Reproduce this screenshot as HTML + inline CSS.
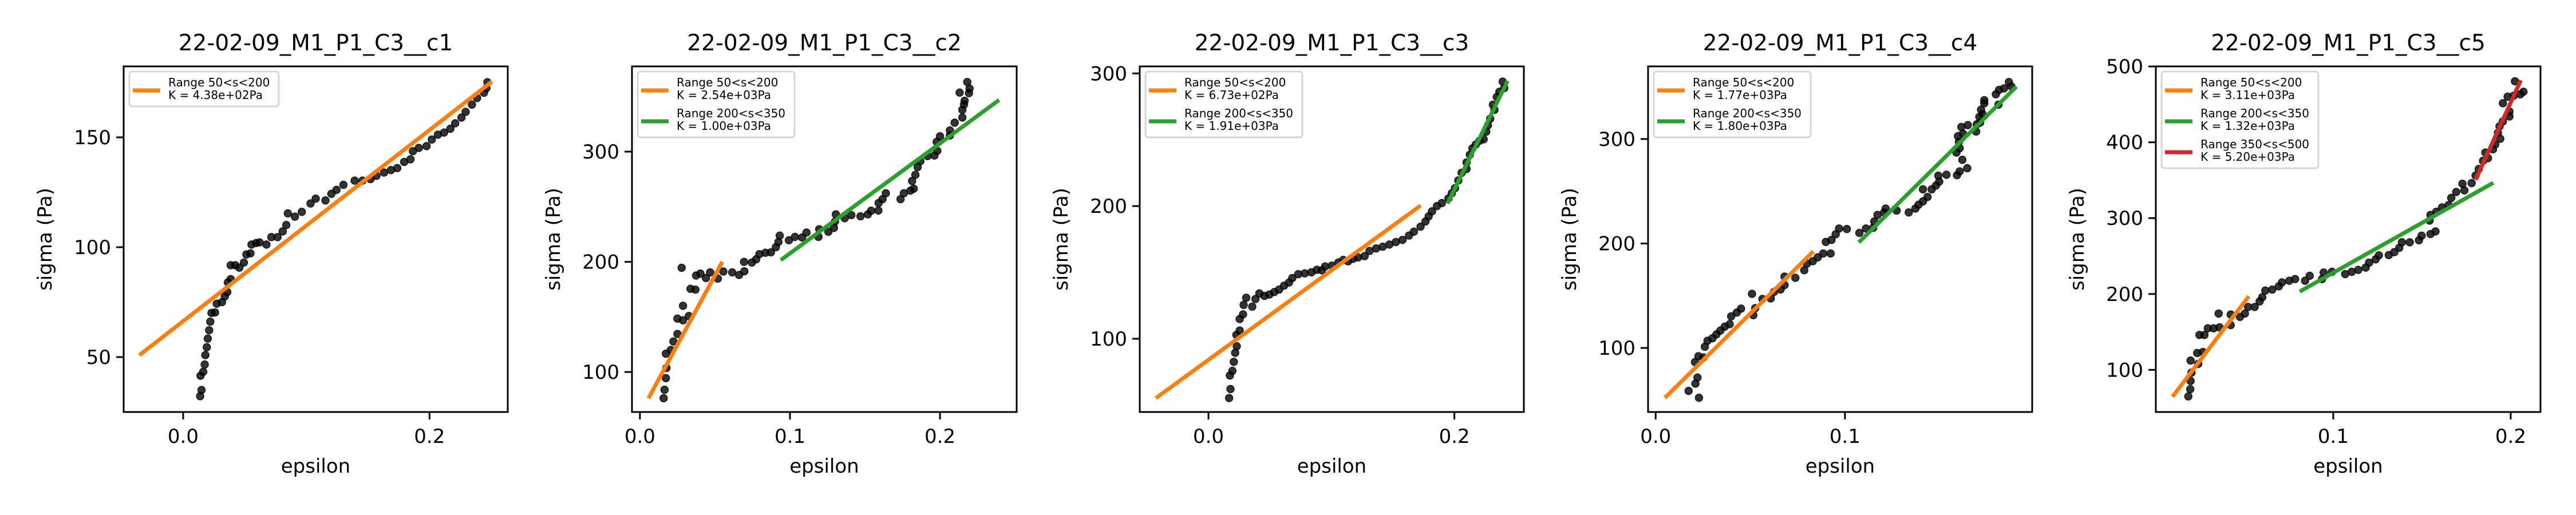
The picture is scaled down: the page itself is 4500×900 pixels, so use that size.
<!DOCTYPE html>
<html><head><meta charset="utf-8"><style>
html,body{margin:0;padding:0;background:#fff;}
svg{display:block;font-family:"DejaVu Sans","Liberation Sans",sans-serif;}
</style></head><body>
<svg id="fig" width="4500" height="900" viewBox="0 0 4500 900" xmlns="http://www.w3.org/2000/svg"></svg>
<script>
// ---- data ----
const titles = ["22-02-09_M1_P1_C3__c1","22-02-09_M1_P1_C3__c2","22-02-09_M1_P1_C3__c3","22-02-09_M1_P1_C3__c4","22-02-09_M1_P1_C3__c5"];
const c1x=[0.0138,0.0149,0.0141,0.0163,0.0175,0.018,0.0192,0.02,0.0211,0.022,0.023,0.0259,0.0273,0.0315,0.0338,0.0358,0.0363,0.0386,0.0386,0.0423,0.0456,0.0493,0.0513,0.0546,0.0555,0.0592,0.062,0.0676,0.0716,0.0766,0.0808,0.0837,0.085,0.0907,0.0963,0.1034,0.1076,0.1155,0.1203,0.1245,0.1301,0.1392,0.1456,0.1521,0.1569,0.1631,0.1687,0.1738,0.1794,0.1845,0.1865,0.1913,0.1976,0.2018,0.2068,0.2118,0.2169,0.2208,0.2259,0.2293,0.2344,0.2386,0.2442,0.2462,0.247];
const c1y=[32.2,35,41.5,43.3,46.6,50.9,54.5,58.4,62.2,66.1,70.1,70.3,74.3,75,77.6,79.6,84,85.5,91.8,91.8,90.7,93,96.7,97.2,101.2,101.9,102.2,101.2,104.6,104.6,107.2,110.1,115.4,113.9,116.1,119.9,122.1,121.3,124.3,126.1,128.4,130.3,130.3,131,132.5,134,135.1,136,138.8,140,143.7,145.2,146,149,151.2,152.2,153.9,156.4,159,161.6,164.9,167.9,170.3,172.4,175.1];
const c2x=[0.0158,0.0164,0.0173,0.0177,0.0173,0.0206,0.0223,0.025,0.025,0.0287,0.0287,0.0326,0.0337,0.037,0.0278,0.0374,0.0403,0.044,0.0468,0.0519,0.0556,0.0615,0.0661,0.0696,0.0694,0.0746,0.0775,0.0796,0.0836,0.0873,0.0906,0.0923,0.0932,0.0993,0.1033,0.1081,0.111,0.119,0.1195,0.1256,0.1293,0.13,0.1306,0.1365,0.1409,0.147,0.1519,0.1541,0.1589,0.1591,0.1617,0.1639,0.1737,0.1759,0.1803,0.1825,0.1814,0.1836,0.1851,0.1869,0.1917,0.1963,0.1982,0.1978,0.2,0.2066,0.2066,0.2098,0.2149,0.2149,0.216,0.2164,0.2131,0.2193,0.2197,0.2182];
const c2y=[76.2,83.9,94.4,103.7,116.6,120,127.7,134.5,148.5,146.9,160.1,150.8,175.5,174.8,194.6,187.6,189.3,185.3,190.4,184.8,191.2,190.4,188.1,191.4,200,199.3,202.3,207,208.2,208.6,213.3,218,223.8,219.6,222.6,222.1,226.6,222.6,229.6,227.3,230.8,236.6,243.1,239.6,242.4,241.3,243.1,246.4,246.6,253.4,256.9,262.2,256.9,262.2,264.6,266.4,273.4,279,286,291.4,296,296.5,300.7,308.9,314,314.7,319.3,326.3,331,338,342.7,346.2,353.6,353.1,357.3,363.2];
const c3x=[0.0168,0.0179,0.0174,0.0195,0.0206,0.0217,0.023,0.0227,0.0254,0.0254,0.0281,0.0286,0.0307,0.0356,0.0382,0.0414,0.0455,0.0495,0.0535,0.0575,0.0615,0.0655,0.0682,0.073,0.0783,0.0837,0.0882,0.0922,0.0949,0.1003,0.1056,0.1096,0.1136,0.1176,0.1217,0.127,0.131,0.1364,0.1417,0.1471,0.1524,0.1578,0.1631,0.1671,0.1725,0.1765,0.1791,0.1818,0.1858,0.1898,0.1952,0.1979,0.2005,0.2032,0.2059,0.2099,0.2099,0.2126,0.2147,0.2174,0.2206,0.2238,0.2259,0.2273,0.2291,0.2326,0.2313,0.2345,0.2366,0.2406,0.2393];
const c3y=[55.3,62.1,72.3,75.8,82.6,89.4,94.4,102.9,106.2,114.9,118.4,125.5,130.9,124.2,130,134.2,132.3,133.3,135.2,137.1,140,142.4,145.8,148.7,149.3,150.1,152,151.6,154.5,155.1,157.4,159.4,158.4,160.3,161.3,162.3,166.2,168.1,169.4,171,172.9,174.5,177.8,180.7,184.5,188.4,192.3,196.1,200,202.3,205.8,209.7,213.5,219.3,225.1,228,232.9,238.7,243.5,246.4,249.3,250.3,256.1,260.9,265.8,272.5,276.4,282.2,286.1,289,293.8];
const c4x=[0.0174,0.021,0.0221,0.0229,0.0208,0.0226,0.0252,0.026,0.0274,0.03,0.0321,0.0342,0.0365,0.0391,0.0399,0.0429,0.0451,0.0509,0.0516,0.0526,0.0564,0.0608,0.0625,0.066,0.0681,0.0681,0.0738,0.0785,0.0799,0.083,0.0856,0.0885,0.0924,0.0899,0.0929,0.0951,0.0969,0.101,0.1076,0.1111,0.1149,0.1155,0.1172,0.1207,0.1215,0.1273,0.1337,0.1372,0.1389,0.1412,0.1436,0.1412,0.1458,0.1481,0.1498,0.1493,0.1536,0.1592,0.1606,0.1646,0.162,0.1589,0.1606,0.1602,0.1597,0.1615,0.1623,0.1649,0.1693,0.1696,0.1714,0.171,0.1727,0.1719,0.1736,0.1736,0.1797,0.1811,0.1814,0.184,0.1866,0.188];
const c4y=[58.9,65.8,71.7,52.3,86.5,92.1,90.9,101.2,106.9,109.3,113,116.7,120.4,122.8,130.2,133.9,137.6,151.8,131.4,138.1,146.9,147.4,153.6,156,160.2,168.3,167.1,174.4,180.6,183,186.7,190.4,190.4,201.5,203.4,208.8,214.3,213.8,210.1,214.3,215,221.1,227.3,229.7,233.4,231.5,229.7,233.4,237.1,240.3,244.5,251.8,251.8,255.5,259.2,264.9,265.8,265.4,269,272,280.1,287,291.2,297.3,302.7,311.5,305.2,313.3,307.1,314,315.7,321.1,323.8,328,334.2,337.1,342.8,332.9,347,348.4,354.5,350.1];
const c5x=[0.0183,0.0194,0.0196,0.0201,0.0196,0.0239,0.0233,0.0265,0.0246,0.0274,0.0293,0.0326,0.0359,0.0354,0.0422,0.0422,0.0474,0.0502,0.052,0.0557,0.0585,0.06,0.0617,0.0656,0.0693,0.0711,0.0752,0.0785,0.0841,0.0867,0.0937,0.0946,0.0993,0.1067,0.1104,0.1141,0.1183,0.1202,0.1239,0.1257,0.1313,0.1344,0.1372,0.1387,0.1431,0.1483,0.1498,0.1548,0.1576,0.1543,0.1548,0.1581,0.1613,0.165,0.1665,0.1693,0.1728,0.1739,0.178,0.1802,0.182,0.1844,0.1872,0.1857,0.19,0.1913,0.1941,0.1928,0.1937,0.1956,0.1993,0.1993,0.1956,0.1983,0.2017,0.2054,0.2072,0.2024];
const c5y=[65,74.5,85.3,96.2,112.2,107.9,122.2,123.5,146,146,154.7,154.7,156,174.2,159,172.9,169.8,174.2,182.8,182.8,190.2,195.8,204.5,205.8,210.1,215.3,217.5,219.7,217.5,224,219.7,228.3,229.2,226.2,229.2,231.8,234.8,241.3,245.7,250.9,251.3,255.2,260.8,268.2,268.2,270.8,276.9,279,282.5,296.8,304.2,308.5,314.1,317.2,326.7,334.5,345.3,336.7,346.2,356.2,364.8,375.6,379.1,386.5,390.8,397.3,404.7,412.5,421.1,427.6,434.1,440.6,451.5,460.1,461.4,463.2,466.6,480.5];
// fit segments: start/end epsilon and sigma
const fitX0=[[-0.0355],[0.0057,0.0939],[-0.0428,0.1944],[0.0049,0.1073],[0.0094,0.0811,0.1802]];
const fitX1=[[0.2507],[0.0549,0.2394],[0.1725,0.2433],[0.0833,0.1906],[0.0524,0.1902,0.2057]];
const fitY0=[[50.9],[76.2,201.6],[55.3,201.9],[52.3,201],[64.6,203.2,350.5]];
const fitY1=[[175.4],[200,346.9],[200.4,294.4],[192.4,350.1],[197.1,346.6,481.8]];
const fitRanges=["Range 50<s<200","Range 200<s<350","Range 350<s<500"];
const fitK=[["4.38e+02"],["2.54e+03","1.00e+03"],["6.73e+02","1.91e+03"],["1.77e+03","1.80e+03"],["3.11e+03","1.32e+03","5.20e+03"]];
const xTicks=[[0.0,0.2],[0.0,0.1,0.2],[0.0,0.2],[0.0,0.1],[0.1,0.2]];
const yTicks=[[50,100,150],[100,200,300],[100,200,300],[100,200,300],[100,200,300,400,500]];
const xs=[c1x,c2x,c3x,c4x,c5x], ys=[c1y,c2y,c3y,c4y,c5y];
// ---- layout ----
const boxes=[[216,887],[1104,1776],[1991,2662],[2879,3550],[3766,4438]];
const xDom=[[-0.0483,0.2635],[-0.0053,0.2511],[-0.0559,0.2565],[-0.004,0.1989],[0.0,0.2168]];
const yDom=[[25,182.3],[63.7,377.4],[44.8,305.3],[38.7,369.5],[44.4,500.1]];
const legW=[261,274,274,274,274];
const colors=["#ff7f0e","#2ca02c","#d62728"];
const TOP=116,BOT=720;
const NS="http://www.w3.org/2000/svg";
const svg=document.getElementById('fig');
function mk(tag,attrs,parent){const e=document.createElementNS(NS,tag);for(const k in attrs)e.setAttribute(k,attrs[k]);(parent||svg).appendChild(e);return e;}
for(let p=0;p<5;p++){
  const [L,R]=boxes[p];
  const sx=v=>L+(v-xDom[p][0])/(xDom[p][1]-xDom[p][0])*(R-L);
  const sy=v=>BOT-(v-yDom[p][0])/(yDom[p][1]-yDom[p][0])*(BOT-TOP);
  const g=mk('g',{});
  
  
  const t=mk('text',{x:(L+R)/2,y:88,'font-size':39,'text-anchor':'middle',fill:'#000'},g);
  t.textContent=titles[p];
  
  
  const clip=mk('clipPath',{id:'clip'+p},g);
  mk('rect',{x:L,y:TOP,width:R-L,height:BOT-TOP},clip);
  const pts=mk('g',{'clip-path':'url(#clip'+p+')'},g);
  
  
  for(let i=0;i<xs[p].length;i++){
    const c=mk('circle',{cx:sx(xs[p][i]),cy:sy(ys[p][i]),r:6.5,fill:'#000','fill-opacity':0.8,stroke:'#000','stroke-opacity':0.8,'stroke-width':1.5},pts);
    
    
  }
  for(let f=0;f<fitX0[p].length;f++){
    const ln=mk('line',{x1:sx(fitX0[p][f]),y1:sy(fitY0[p][f]),x2:sx(fitX1[p][f]),y2:sy(fitY1[p][f]),stroke:colors[f],'stroke-width':7,'clip-path':'url(#clip'+p+')'},g);
    
    
  }
  const frame=mk('rect',{x:L,y:TOP,width:R-L,height:BOT-TOP,fill:'none',stroke:'#000','stroke-width':3},g);
  
  
  for(const v of xTicks[p]){
    const X=sx(v);
    mk('line',{x1:X,y1:BOT,x2:X,y2:BOT+13,stroke:'#000','stroke-width':3},g);
    const tl=mk('text',{x:X,y:774,'font-size':34,'text-anchor':'middle'},g);
    tl.textContent=v.toFixed(1);
    
    
  }
  for(const v of yTicks[p]){
    const Y=sy(v);
    mk('line',{x1:L,y1:Y,x2:L-13,y2:Y,stroke:'#000','stroke-width':3},g);
    const tl=mk('text',{x:L-22,y:Y+12,'font-size':34,'text-anchor':'end'},g);
    tl.textContent=String(v);
    
    
  }
  const xl=mk('text',{x:(L+R)/2,y:826,'font-size':34,'text-anchor':'middle'},g);
  xl.textContent='epsilon';
  
  
  const yl=mk('text',{x:0,y:0,'font-size':34,'text-anchor':'middle',transform:'translate('+(L-126)+','+((TOP+BOT)/2)+') rotate(-90)'},g);
  yl.textContent='sigma (Pa)';
  
  
  // legend
  const n=fitX0[p].length;
  const lg=mk('g',{},g);
  
  
  const lx=L+10,ly=TOP+9;
  mk('rect',{x:lx,y:ly,width:legW[p],height:7+54*n,rx:5,fill:'#fff','fill-opacity':0.8,stroke:'#d6d6d6','stroke-width':3},lg);
  for(let f=0;f<n;f++){
    const cy=ly+33+54*f;
    const e=mk('g',{},lg);
    
    
    mk('line',{x1:lx+6,y1:cy,x2:lx+54,y2:cy,stroke:colors[f],'stroke-width':7},e);
    const t1=mk('text',{x:lx+68,y:cy-7,'font-size':20},e);
    t1.textContent=fitRanges[f];
    const t2=mk('text',{x:lx+68,y:cy+15,'font-size':20},e);
    t2.textContent='K = '+fitK[p][f]+'Pa';
  }
}
</script>
</body></html>
